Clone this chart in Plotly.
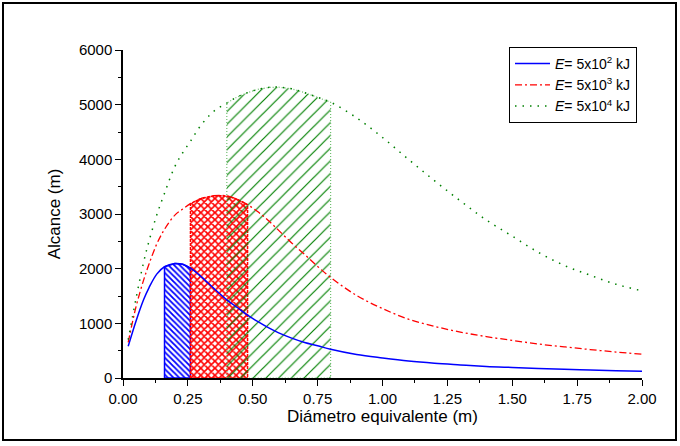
import plotly.graph_objects as go

# Diámetro equivalente (m)
diam = [0.02, 0.05, 0.08, 0.10, 0.13, 0.16, 0.20, 0.23, 0.26, 0.30, 0.35, 0.40, 0.44, 0.48,
        0.52, 0.56, 0.60, 0.65, 0.70, 0.75, 0.80, 0.90, 1.00, 1.10, 1.20, 1.30, 1.40, 1.50,
        1.60, 1.70, 1.80, 1.90, 2.00]

# Alcance (m) for each energy
alc_e2 = [580, 1040, 1440, 1650, 1900, 2035, 2095, 2080, 2010, 1860, 1640, 1430, 1290, 1150,
          1030, 920, 825, 730, 650, 590, 525, 430, 366, 310, 270, 240, 212, 193,
          175, 160, 147, 134, 122]
alc_e3 = [650, 1300, 1800, 2080, 2450, 2720, 2980, 3090, 3190, 3280, 3335, 3330, 3270, 3170,
          3040, 2880, 2700, 2470, 2260, 2040, 1840, 1510, 1270, 1075, 945, 840, 757, 688,
          622, 570, 520, 475, 434]
alc_e4 = [700, 1450, 2130, 2500, 2980, 3380, 3870, 4120, 4330, 4620, 4880, 5030, 5140, 5220,
          5280, 5315, 5320, 5290, 5220, 5135, 5045, 4760, 4400, 4000, 3610, 3240, 2890, 2595,
          2300, 2060, 1880, 1715, 1595]

series_names = ["<i>E</i>= 5x10<sup>2</sup> kJ",
                "<i>E</i>= 5x10<sup>3</sup> kJ",
                "<i>E</i>= 5x10<sup>4</sup> kJ"]

# hatched ranges (m)
hatch_e2 = (0.16, 0.26)
hatch_e3 = (0.26, 0.48)
hatch_e4 = (0.40, 0.80)

x_ticks = [0, 0.25, 0.5, 0.75, 1.0, 1.25, 1.5, 1.75, 2.0]
y_ticks = [0, 1000, 2000, 3000, 4000, 5000, 6000]

W, H = 680, 446
L, R, T, B = 123, 38, 50, 68
PW, PH = W - L - R, H - T - B

FONT = "Arial, Liberation Sans, sans-serif"


def region(xs, ys, rng):
    lo, hi = rng
    sel = [(x, y) for x, y in zip(xs, ys) if lo - 1e-9 <= x <= hi + 1e-9]
    rx = [lo] + [p[0] for p in sel] + [hi, lo]
    ry = [0] + [p[1] for p in sel] + [0, 0]
    return rx, ry


fig = go.Figure()

# hatched areas
hx, hy = region(diam, alc_e2, hatch_e2)
fig.add_trace(go.Scatter(x=hx, y=hy, mode="lines", fill="toself",
                         fillcolor="#0000ff",
                         fillpattern=dict(shape="\\", size=4, solidity=0.45, fgopacity=1,
                                          fgcolor="#0000ff", bgcolor="rgba(255,255,255,0)"),
                         line=dict(color="#0000ff", width=1.5), showlegend=False,
                         hoverinfo="skip"))
hx, hy = region(diam, alc_e3, hatch_e3)
fig.add_trace(go.Scatter(x=hx, y=hy, mode="lines", fill="toself",
                         fillcolor="#ff0000",
                         fillpattern=dict(shape="x", size=5, solidity=0.55, fgopacity=1,
                                          fgcolor="#ff0000", bgcolor="rgba(255,255,255,0)"),
                         line=dict(color="#ff0000", width=1.5, dash="3px,1px"),
                         showlegend=False, hoverinfo="skip"))
hx, hy = region(diam, alc_e4, hatch_e4)
fig.add_trace(go.Scatter(x=hx, y=hy, mode="lines", fill="toself",
                         fillcolor="#008000",
                         fillpattern=dict(shape="/", size=9, solidity=0.13, fgopacity=1,
                                          fgcolor="#008000", bgcolor="rgba(255,255,255,0)"),
                         line=dict(color="#6fbf6f", width=1.2, dash="1px,2px"),
                         showlegend=False, hoverinfo="skip"))

# curves
fig.add_trace(go.Scatter(x=diam, y=alc_e2, mode="lines", name=series_names[0],
                         line=dict(color="#0000ff", width=1.5, shape="spline")))
fig.add_trace(go.Scatter(x=diam, y=alc_e3, mode="lines", name=series_names[1],
                         line=dict(color="#ff0000", width=1.3, shape="spline",
                                   dash="7px,3px,2px,3px")))
fig.add_trace(go.Scatter(x=diam, y=alc_e4, mode="lines", name=series_names[2],
                         line=dict(color="#008000", width=1.5, shape="spline",
                                   dash="1.5px,6px")))

axis_common = dict(showgrid=False, zeroline=False, showline=True, linecolor="black",
                   linewidth=1.5, ticks="outside", ticklen=6, tickwidth=1.2,
                   tickcolor="black", mirror=False,
                   tickfont=dict(family=FONT, size=15, color="black"))

fig.update_xaxes(range=[0, 2], tickvals=x_ticks, tickformat=".2f",
                 minor=dict(dtick=0.125, ticks="outside", ticklen=3, tickcolor="black",
                            tickwidth=1),
                 title=dict(text="Diámetro equivalente (m)", standoff=4,
                            font=dict(family=FONT, size=17, color="black")),
                 **axis_common)
fig.update_yaxes(range=[0, 6000], tickvals=y_ticks,
                 minor=dict(dtick=500, ticks="outside", ticklen=3, tickcolor="black",
                            tickwidth=1),
                 title=dict(text="Alcance (m)", standoff=14,
                            font=dict(family=FONT, size=17, color="black")),
                 **axis_common)

# outer frame
fx0, fx1 = (3 - L) / PW, (676 - L) / PW
fy0, fy1 = (H - B - 440) / PH, (H - B - 3) / PH
fig.add_shape(type="rect", xref="paper", yref="paper", x0=fx0, x1=fx1, y0=fy0, y1=fy1,
              line=dict(color="black", width=2), fillcolor="rgba(0,0,0,0)", layer="below")

fig.update_layout(
    width=W, height=H,
    margin=dict(l=L, r=R, t=T, b=B),
    paper_bgcolor="white", plot_bgcolor="white",
    font=dict(family=FONT, color="black"),
    legend=dict(x=(637 - L) / PW, xanchor="right", y=(H - B - 47) / PH, yanchor="top",
                bordercolor="black", borderwidth=1, bgcolor="white",
                font=dict(family=FONT, size=14, color="black"),
                tracegroupgap=0, itemwidth=35),
    showlegend=True,
)

fig.write_html("out.html", config={"displayModeBar": False},
               post_script="document.body.style.margin='0';document.body.style.padding='0';")
